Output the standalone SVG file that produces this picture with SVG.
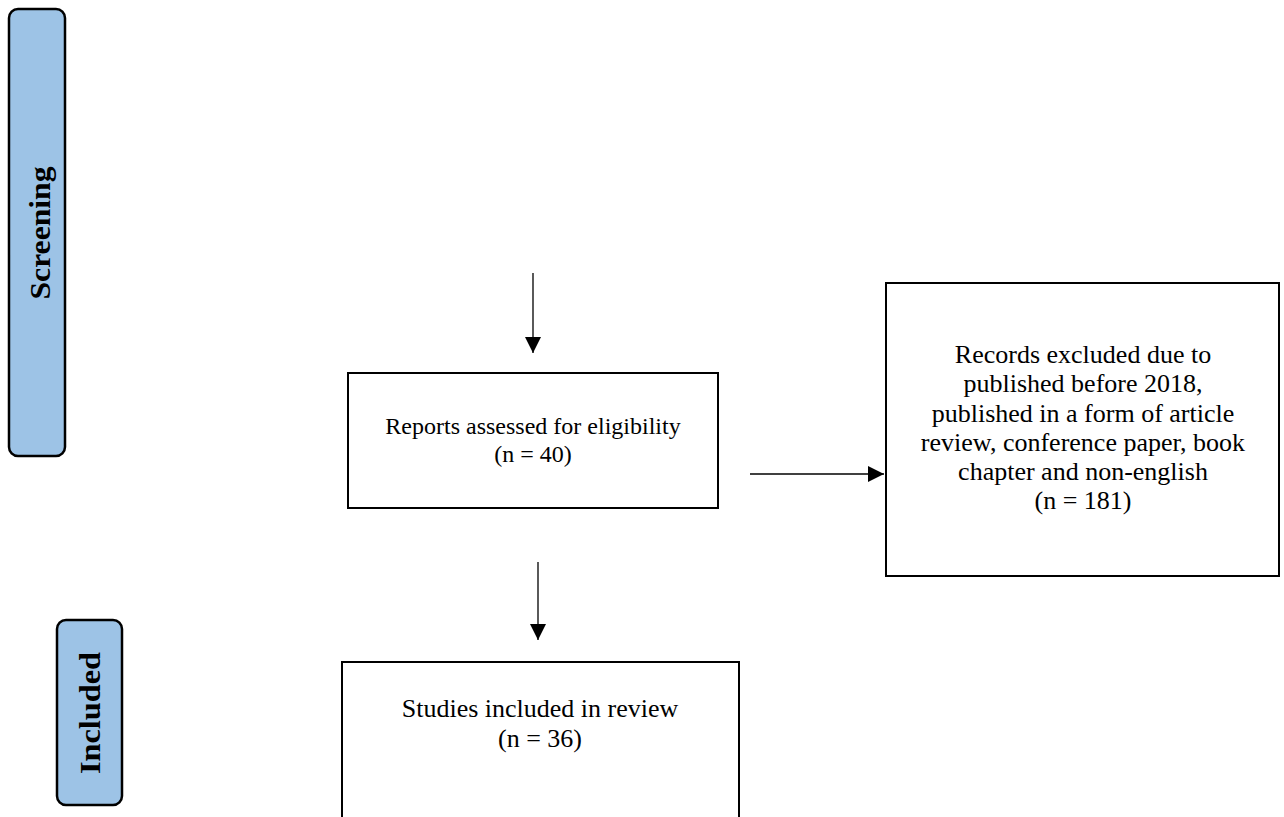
<svg xmlns="http://www.w3.org/2000/svg" width="1284" height="817" viewBox="0 0 1284 817">
  <defs>
    <style>
      .box { fill: #ffffff; stroke: #000000; stroke-width: 2; }
      .band { fill: #9dc3e6; stroke: #000000; stroke-width: 2.5; }
      .txt { font-family: "Liberation Serif", "Times New Roman", serif; font-size: 24px; fill: #000000; text-anchor: middle; }
      .txt26 { font-size: 26px; }
      .bandtxt { font-family: "Liberation Serif", "Times New Roman", serif; font-size: 30px; font-weight: bold; fill: #000000; text-anchor: middle; }
      .conn { stroke: #000000; stroke-width: 1.3; fill: none; }
    </style>
    <marker id="arrowBig" viewBox="0 0 16 16" refX="16" refY="8" markerWidth="16" markerHeight="16" markerUnits="userSpaceOnUse" orient="auto">
      <path d="M0,0 L16,8 L0,16 Z" fill="#000000"/>
    </marker>
  </defs>
  <rect width="1284" height="817" fill="#ffffff"/>

  <g id="band-screening">
    <rect class="band" x="9" y="9" width="56" height="447" rx="9" ry="9"/>
    <text class="bandtxt" transform="translate(50,233) rotate(-90)" x="0" y="0" textLength="133" lengthAdjust="spacingAndGlyphs">Screening</text>
  </g>

  <g id="band-included">
    <rect class="band" x="57" y="620" width="65" height="185" rx="9" ry="9"/>
    <text class="bandtxt" transform="translate(100,713) rotate(-90)" x="0" y="0" textLength="122" lengthAdjust="spacingAndGlyphs">Included</text>
  </g>

  <g id="node-reports">
    <rect class="box" x="348" y="373" width="370" height="135"/>
    <text class="txt" x="533" y="434">Reports assessed for eligibility</text>
    <text class="txt" x="533" y="462">(n = 40)</text>
  </g>

  <g id="node-excluded">
    <rect class="box" x="886" y="283" width="393" height="293"/>
    <text class="txt txt26" x="1083" y="363">Records excluded due to</text>
    <text class="txt txt26" x="1083" y="392">published before 2018,</text>
    <text class="txt txt26" x="1083" y="422">published in a form of article</text>
    <text class="txt txt26" x="1083" y="451">review, conference paper, book</text>
    <text class="txt txt26" x="1083" y="480">chapter and non-english</text>
    <text class="txt txt26" x="1083" y="509">(n = 181)</text>
  </g>

  <g id="node-included">
    <rect class="box" x="342" y="662" width="397" height="160"/>
    <text class="txt txt26" x="540" y="717">Studies included in review</text>
    <text class="txt txt26" x="540" y="747">(n = 36)</text>
  </g>

  <g id="connectors">
    <line class="conn" x1="533" y1="273" x2="533" y2="353" marker-end="url(#arrowBig)"/>
    <line class="conn" x1="750" y1="474" x2="884" y2="474" marker-end="url(#arrowBig)"/>
    <line class="conn" x1="538" y1="562" x2="538" y2="640" marker-end="url(#arrowBig)"/>
  </g>
</svg>
